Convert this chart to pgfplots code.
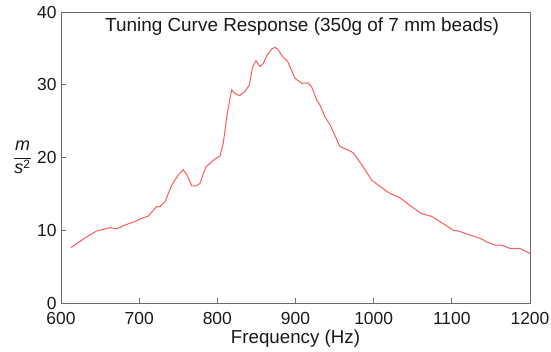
\documentclass[border=0pt]{standalone}
\usepackage{fontspec}
\setmainfont{Liberation Sans}
\usepackage{pgfplots}
\pgfplotsset{compat=1.18}
\definecolor{curve}{RGB}{255,90,90}
\definecolor{axgray}{RGB}{110,110,110}
\definecolor{txt}{RGB}{25,25,25}
\begin{document}
\begin{tikzpicture}
\path[use as bounding box] (-61bp,-49bp) rectangle (490bp,303bp);
\begin{axis}[
  scale only axis,
  width=469bp, height=291bp,
  xmin=600, xmax=1200, ymin=0, ymax=40,
  xtick={600,700,...,1200}, ytick={0,10,...,40},
  tick pos=left, tick align=inside,
  major tick length=5bp,
  axis line style={axgray, line width=0.9bp},
  every tick/.style={axgray, line width=0.9bp},
  /pgf/number format/assume math mode=true,
  /pgf/number format/1000 sep={},
  ticklabel style={font=\fontsize{17.5}{20}\selectfont, text=txt},
  xticklabel style={yshift=-6bp},
  yticklabel style={xshift=-1bp},
  xlabel={Frequency (Hz)},
  xlabel style={font=\fontsize{18.8}{20}\selectfont, text=txt, yshift=2bp},
  ylabel={$\displaystyle\frac{\textit{m}}{\textit{s}^{\mbox{\fontsize{12}{13}\selectfont 2}}}$},
  ylabel style={rotate=-90, font=\fontsize{18}{20}\selectfont, text=txt, at={(axis description cs:-0.082,0.5)}, anchor=center},
  title={Tuning Curve Response (350g of 7 mm beads)},
  title style={font=\fontsize{19}{21}\selectfont, text=txt, at={(axis description cs:0.514,0.928)}, anchor=center},
]
\addplot[curve, line width=1bp] coordinates {
(612.8,7.6) (622,8.3) (632.9,9.1) (645.6,9.9) (662.7,10.35) (671.2,10.2)
(684,10.8) (694.7,11.2) (701,11.55) (711.7,11.95) (722.4,13.25) (726.6,13.25)
(733,13.9) (741.6,16.2) (750,17.6) (756.5,18.3) (760.8,17.7) (767.2,16.1)
(773.6,16.1) (777.8,16.45) (785.3,18.7) (797,19.8) (803.4,20.2) (807.6,21.95)
(812.7,26.1) (818.4,29.3) (822.6,28.8) (828.1,28.5) (835.4,29.05) (840.9,29.97)
(845.2,32.5) (849.5,33.3) (854.6,32.5) (858.8,32.95) (863.1,33.95) (869.5,34.9)
(873.8,35.15) (878,34.8) (883.6,33.85) (890,33.2) (899.3,30.9) (907.9,30.2)
(916,30.25) (920.7,29.7) (927.1,27.9) (931.3,27.2) (937.7,25.6) (944.1,24.5)
(956.9,21.5) (965.5,21.1) (973.9,20.65) (984.7,19.0) (997.5,16.9) (1005.9,16.2)
(1018.7,15.2) (1033.7,14.45) (1046.5,13.4) (1061,12.3) (1074.2,11.9) (1089,10.9)
(1101.9,10.0) (1108.3,9.9) (1123.2,9.35) (1136,8.9) (1144.6,8.4) (1155.2,7.97)
(1163.8,7.97) (1174.4,7.5) (1187.2,7.5) (1200,6.8)
};
\end{axis}
\end{tikzpicture}
\end{document}
